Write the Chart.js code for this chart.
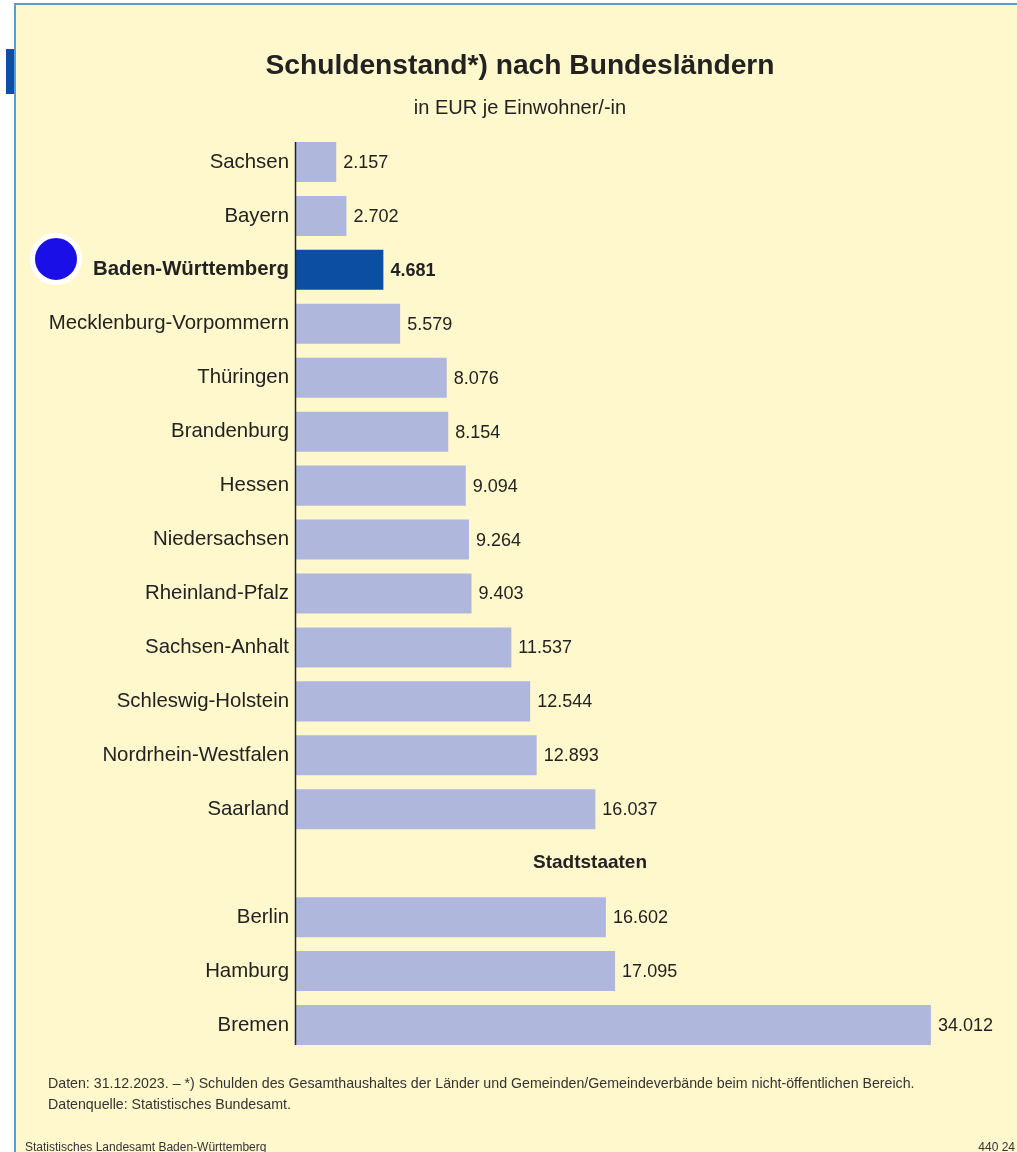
<!DOCTYPE html>
<html lang="de">
<head>
<meta charset="utf-8">
<script src="https://cdn.jsdelivr.net/npm/chart.js@4.4.1/dist/chart.umd.min.js"></script>
<style>
  html, body { margin: 0; padding: 0; background: #ffffff; }
  body { width: 1017px; height: 1152px; position: relative; overflow: hidden;
         font-family: "Liberation Sans", Arial, sans-serif; color: #222; }
  #panel { position: absolute; left: 14px; top: 3px; right: 0; bottom: 0; background: #FFF8CC;
           border-left: 2px solid #5B9BD5; border-top: 2px solid #5B9BD5; }
  #tab { position: absolute; left: 6px; top: 49px; width: 8px; height: 45px; background: #0C4EA2; }
  #chart { position: absolute; left: 0; top: 0; z-index: 2; }
  .txt { position: absolute; z-index: 3; white-space: nowrap; }
  #title { left: 20px; width: 1000px; top: 44px; line-height: 40px; text-align: center; font-size: 28.2px; font-weight: bold; color: #222; }
  #subtitle { left: 20px; width: 1000px; top: 92px; line-height: 30px; text-align: center; font-size: 20px; color: #222; }
  #note1 { left: 48px; top: 1073px; line-height: 20px; font-size: 14.2px; color: #333; }
  #note2 { left: 48px; top: 1094px; line-height: 20px; font-size: 14.2px; color: #333; }
  #src { left: 25px; top: 1139px; line-height: 16px; font-size: 12px; color: #333; }
  #num { right: 2px; top: 1139px; line-height: 16px; font-size: 12px; color: #333; }
  #dot { position: absolute; z-index: 4; left: 30px; top: 233px; width: 42px; height: 42px; border-radius: 50%;
         background: #1A0FE6; border: 5px solid #ffffff; }
</style>
</head>
<body>
<div id="panel"></div>
<div id="tab"></div>
<div class="txt" id="title">Schuldenstand*) nach Bundesländern</div>
<div class="txt" id="subtitle">in EUR je Einwohner/-in</div>
<canvas id="chart" width="1017" height="1152"></canvas>
<div id="dot"></div>
<div class="txt" id="note1">Daten: 31.12.2023. – *) Schulden des Gesamthaushaltes der Länder und Gemeinden/Gemeindeverbände beim nicht-öffentlichen Bereich.</div>
<div class="txt" id="note2">Datenquelle: Statistisches Bundesamt.</div>
<div class="txt" id="src">Statistisches Landesamt Baden-Württemberg</div>
<div class="txt" id="num">440 24</div>
<script>
const categories = ["Sachsen", "Bayern", "Baden-Württemberg", "Mecklenburg-Vorpommern", "Thüringen",
  "Brandenburg", "Hessen", "Niedersachsen", "Rheinland-Pfalz", "Sachsen-Anhalt", "Schleswig-Holstein",
  "Nordrhein-Westfalen", "Saarland", "", "Berlin", "Hamburg", "Bremen"];
const values = [2157, 2702, 4681, 5579, 8076, 8154, 9094, 9264, 9403, 11537, 12544, 12893, 16037, null,
  16602, 17095, 34012];
const highlight = "Baden-Württemberg";
const groupLabel = "Stadtstaaten";
const groupIndex = 13;

const FONT = '"Liberation Sans", Arial, sans-serif';
const fmt = v => v.toString().replace(/\B(?=(\d{3})+(?!\d))/g, ".");

const extras = {
  id: 'extras',
  afterDatasetsDraw(chart) {
    const ctx = chart.ctx;
    const meta = chart.getDatasetMeta(0);
    const area = chart.chartArea;
    ctx.save();
    // value labels
    ctx.textBaseline = 'middle';
    ctx.textAlign = 'left';
    ctx.fillStyle = '#222';
    meta.data.forEach((bar, i) => {
      if (values[i] == null) return;
      const bold = categories[i] === highlight;
      ctx.font = (bold ? 'bold ' : '') + '18px ' + FONT;
      ctx.fillText(fmt(values[i]), bar.x + 7, bar.y + 1);
    });
    // group label
    const gy = chart.scales.y.getPixelForValue(groupIndex);
    ctx.font = 'bold 19px ' + FONT;
    ctx.textAlign = 'center';
    ctx.fillText(groupLabel, area.left + 294, gy);
    // axis line
    const first = meta.data[0], last = meta.data[meta.data.length - 1];
    ctx.strokeStyle = '#222';
    ctx.lineWidth = 1.5;
    ctx.beginPath();
    ctx.moveTo(area.left - 0.5, first.y - first.height / 2);
    ctx.lineTo(area.left - 0.5, last.y + last.height / 2);
    ctx.stroke();
    ctx.restore();
  }
};

new Chart(document.getElementById('chart'), {
  type: 'bar',
  data: {
    labels: categories,
    datasets: [{
      data: values,
      backgroundColor: categories.map(c => c === highlight ? '#0C4EA2' : '#AFB7DC'),
      borderWidth: 0,
      categoryPercentage: 1,
      barPercentage: 0.742
    }]
  },
  options: {
    indexAxis: 'y',
    responsive: false,
    animation: false,
    devicePixelRatio: 1,
    layout: { padding: { top: 135, bottom: 100, left: 0, right: 49 } },
    plugins: { legend: { display: false }, tooltip: { enabled: false } },
    scales: {
      x: { display: false, min: 0, max: 36000 },
      y: {
        afterFit(scale) { scale.width = 296; },
        grid: { display: false, drawTicks: false },
        border: { display: false },
        ticks: {
          padding: 7,
          color: '#222',
          font: ctx => ({ family: FONT, size: 20.4, weight: categories[ctx.index] === highlight ? 'bold' : 'normal' })
        }
      }
    }
  },
  plugins: [extras]
});
</script>
</body>
</html>
